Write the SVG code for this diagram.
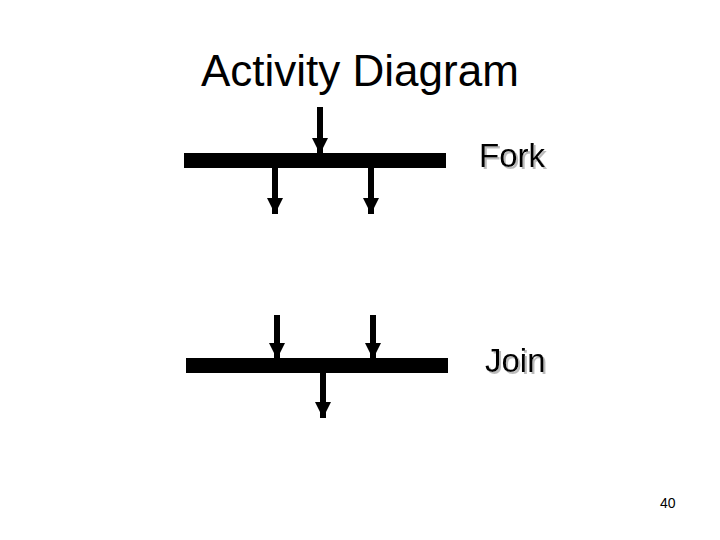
<svg xmlns="http://www.w3.org/2000/svg" width="720" height="540" viewBox="0 0 720 540">
<defs>
<style>
.bar{fill:#000}
.flow{stroke:#000;stroke-width:6;fill:none;marker-end:url(#ah)}
.t{font-family:"Liberation Sans",Arial,sans-serif;fill:#000}
.lbl{font-family:"Liberation Sans",Arial,sans-serif;font-size:33px;fill:#000;filter:url(#shadow)}
</style>
<filter id="shadow" x="-10%" y="-20%" width="130%" height="150%">
<feDropShadow dx="2" dy="2" stdDeviation="0.6" flood-color="#aaa" flood-opacity="0.8"/>
</filter>
<marker id="ah" markerUnits="userSpaceOnUse" markerWidth="16" markerHeight="16" viewBox="0 0 16 16" refX="16" refY="8" orient="auto">
<path d="M0,0 L16,8 L0,16 z" fill="#000"/>
</marker>
</defs>
<rect width="720" height="540" fill="#fff"/>
<text class="t" x="201" y="86" font-size="44">Activity Diagram</text>
<g id="fork">
<rect class="bar" x="184" y="153" width="262" height="15"/>
<text class="lbl" x="479" y="167">Fork</text>
</g>
<g id="join">
<rect class="bar" x="186" y="358" width="262" height="15"/>
<text class="lbl" x="485" y="372">Join</text>
</g>
<g id="connectors">
<line class="flow" x1="320" y1="107" x2="320" y2="154"/>
<line class="flow" x1="275" y1="168" x2="275" y2="214"/>
<line class="flow" x1="371" y1="168" x2="371" y2="214"/>
<line class="flow" x1="277" y1="315" x2="277" y2="359"/>
<line class="flow" x1="373" y1="315" x2="373" y2="359"/>
<line class="flow" x1="323" y1="373" x2="323" y2="418"/>
</g>
<text class="t" x="660" y="508" font-size="14">40</text>
</svg>
